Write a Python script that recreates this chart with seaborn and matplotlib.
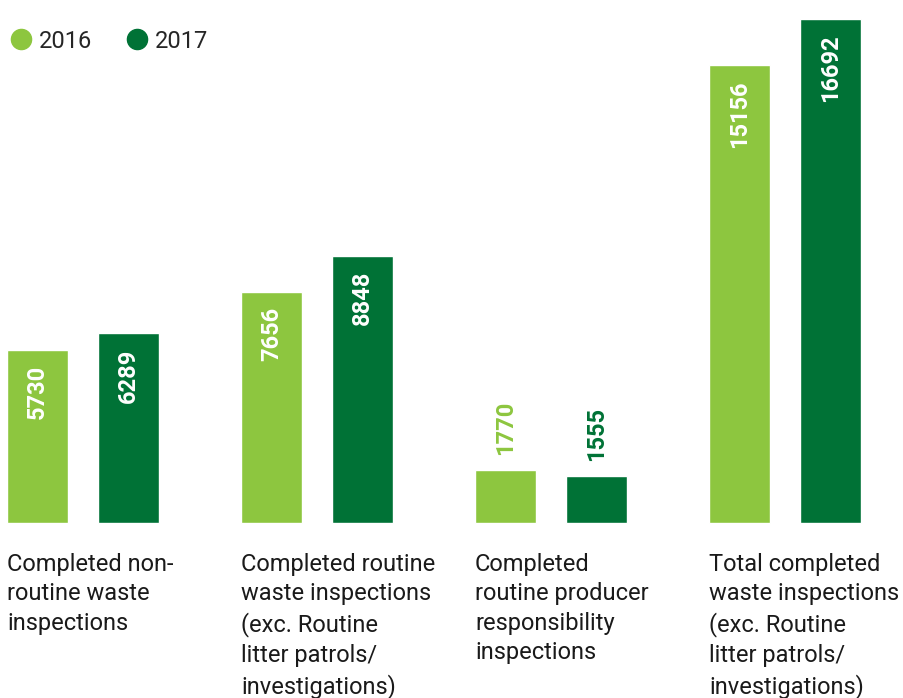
import matplotlib
matplotlib.use("Agg")
import matplotlib.pyplot as plt
from matplotlib.lines import Line2D
import pandas as pd
import seaborn as sns

# datos
categories = [
    "Completed non-\nroutine waste\ninspections",
    "Completed routine\nwaste inspections\n(exc. Routine\nlitter patrols/\ninvestigations)",
    "Completed\nroutine producer\nresponsibility\ninspections",
    "Total completed\nwaste inspections\n(exc. Routine\nlitter patrols/\ninvestigations)",
]
years = ["2016", "2017"]
values_2016 = [5730, 7656, 1770, 15156]
values_2017 = [6289, 8848, 1555, 16692]

light_green = "#8DC63F"
dark_green = "#007236"
colors = [light_green, dark_green]

df = pd.DataFrame({
    "category": categories * 2,
    "year": [years[0]] * 4 + [years[1]] * 4,
    "value": values_2016 + values_2017,
})

sns.set_style("white")
plt.rcParams["font.family"] = ["Roboto", "DejaVu Sans"]

fig = plt.figure(figsize=(9.04, 6.98), dpi=100)
ax = fig.add_axes([0, 0, 1, 1])

sns.barplot(data=df, x="category", y="value", hue="year", order=categories,
            hue_order=years, palette=colors, width=0.778, gap=0.33,
            saturation=1, legend=False, ax=ax)

ax.set_xlim(-0.355, 3.509)
ax.set_ylim(-5795, 17316)
ax.axis("off")

# etiquetas de valores
bars_2016 = ax.patches[:4]
bars_2017 = ax.patches[4:8]
for bars, vals, col in [(bars_2016, values_2016, light_green), (bars_2017, values_2017, dark_green)]:
    for bar, v in zip(bars, vals):
        cx = bar.get_x() + bar.get_width() / 2
        top = bar.get_height()
        if v > 3000:
            ax.annotate(str(v), (cx, top), xytext=(0, -11), textcoords="offset points",
                        rotation=90, ha="center", va="top", color="white",
                        fontsize=17, fontweight="bold")
        else:
            ax.annotate(str(v), (cx, top), xytext=(0, 10.5), textcoords="offset points",
                        rotation=90, ha="center", va="bottom", color=col,
                        fontsize=17, fontweight="bold")

# etiquetas de categorías
for bar, cat in zip(bars_2016, categories):
    ax.annotate(cat, (bar.get_x(), 0), xytext=(0, -21.5), textcoords="offset points",
                ha="left", va="top", fontsize=17, color="#1a1a1a", linespacing=1.36)

# leyenda
handles = [Line2D([0], [0], marker="o", linestyle="", markersize=14.5,
                  markerfacecolor=c, markeredgecolor=c) for c in colors]
fig.legend(handles, years, loc="upper left", bbox_to_anchor=(-0.008, 0.978), ncol=2,
           frameon=False, fontsize=17, handletextpad=0.15, columnspacing=1.3,
           handlelength=1.2, borderaxespad=0.2)

plt.savefig("out.png", dpi=100)
